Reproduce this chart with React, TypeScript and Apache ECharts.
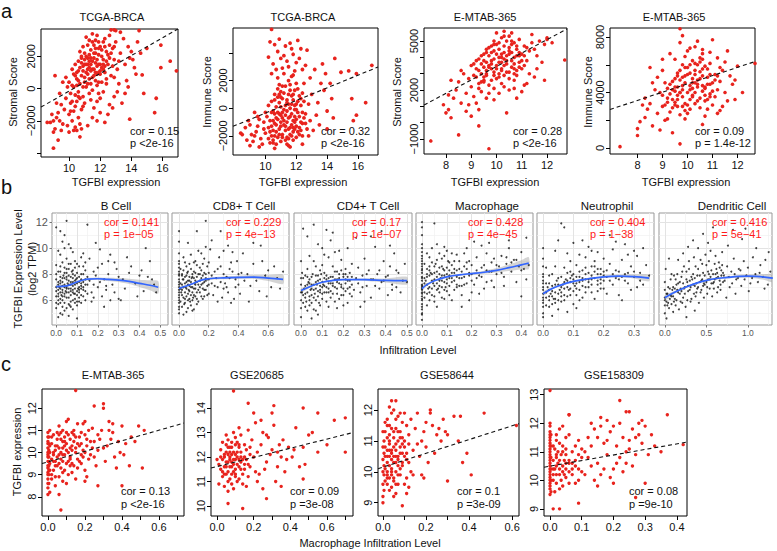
import React, { useEffect, useRef } from "react";
import * as echarts from "echarts";

type Pt = [number, number];
const FONT = '"Liberation Sans", Arial, Helvetica, sans-serif';
const RED = "#e8231d";

// ---------------- Panel a : TGFBI expression vs Stromal / Immune scores ----------------
const aTitles = ["TCGA-BRCA", "TCGA-BRCA", "E-MTAB-365", "E-MTAB-365"];
const aYNames = ["Stromal Score", "Immune Score", "Stromal Score", "Immune Score"];
const aXName = "TGFBI expression";
const aCor = ["cor = 0.15", "cor = 0.32", "cor = 0.28", "cor = 0.09"];
const aP = ["p <2e-16", "p <2e-16", "p <2e-16", "p = 1.4e-12"];

const a1XTicks = [10, 12, 14, 16];
const a1YTicks = [-4000, -2000, 0, 2000];
const a1YLabels = [-2000, 0, 2000];
const a2XTicks = [10, 12, 14, 16];
const a2YTicks = [-2000, 0, 2000, 4000];
const a2YLabels = [-2000, 0, 2000];
const a3XTicks = [8, 9, 10, 11, 12];
const a3YTicks = [-1000, 0, 1000, 2000, 3000, 4000, 5000];
const a3YLabels = [-1000, 2000, 5000];
const a4XTicks = [8, 9, 10, 11, 12];
const a4YTicks = [0, 2000, 4000, 6000, 8000];
const a4YLabels = [0, 4000, 8000];

const a1Fit: Pt[] = [[8.2, -1150], [17.0, 3700]];
const a2Fit: Pt[] = [[7.9, -1310], [17.3, 2980]];
const a3Fit: Pt[] = [[7.13, 1080], [12.79, 5740]];
const a4Fit: Pt[] = [[6.9, 2775], [12.7, 6230]];

const a1Stromal: Pt[] = [
  [11.2,1500],[11.5,1200],[10.8,800],[11.9,2100],[12.2,1800],[11.0,400],[11.4,2400],[10.6,1100],[12.0,900],[11.7,1600],
  [11.1,2000],[10.9,1400],[12.4,2300],[11.3,600],[11.8,200],[10.7,300],[12.1,1300],[11.6,2700],[11.0,1800],[12.3,1000],
  [10.5,600],[11.5,-100],[11.9,2900],[11.2,900],[10.8,1900],[12.6,1900],[11.4,1100],[11.7,500],[10.6,-200],[12.0,2600],
  [11.3,3000],[10.9,-500],[12.2,2900],[11.8,1400],[10.4,1500],[11.1,100],[12.5,1500],[11.6,800],[10.7,2300],[12.8,2500],
  [11.0,-900],[11.9,-300],[12.1,400],[10.3,900],[11.4,-700],[12.7,800],[11.2,2700],[10.5,-800],[11.8,3300],[12.4,600],
  [10.2,200],[11.6,-1200],[12.9,1800],[10.9,2600],[11.3,1700],[12.0,-600],[10.6,1700],[11.5,3400],[12.3,3100],[10.1,-300],
  [11.7,2200],[13.0,2900],[10.8,-1300],[12.6,3300],[11.1,3200],[10.4,-1100],[12.2,-200],[13.1,1200],[10.0,400],[11.9,1000],
  [10.9,1100],[11.3,1300],[11.6,1900],[11.0,700],[12.1,2000],[11.4,1500],[10.7,1300],[11.8,1800],[12.3,2600],[11.2,300],
  [10.5,1000],[11.9,1500],[11.5,700],[12.2,1200],[10.8,1600],[11.1,1000],[11.7,2500],[12.4,1700],[10.6,500],[11.4,1900],
  [11.0,2200],[12.0,1500],[10.9,100],[11.6,1200],[12.5,2100],[11.3,2100],[10.4,800],[11.8,900],[12.1,2400],[11.2,1200],
  [10.7,-600],[11.5,1700],[12.6,2700],[11.9,400],[10.3,100],[11.1,1500],[12.2,1500],[11.7,1000],[10.8,2000],[11.4,300],
  [12.7,2200],[11.0,1500],[10.6,-500],[11.6,2200],[12.3,1400],[11.2,1900],[10.5,200],[11.9,2500],[12.0,1100],[11.3,-300],
  [10.2,-800],[10.9,-1100],[11.8,-800],[12.4,300],[11.5,2900],[10.4,-400],[12.8,1400],[11.7,3000],[10.1,-1400],[12.9,700],
  [9.2,-1800],[9.5,-1000],[9.8,-600],[10.0,-1600],[9.6,-2200],[10.2,-2000],[9.9,100],[9.4,-300],[10.3,-1400],[9.1,-2500],
  [9.7,-1300],[10.1,-900],[9.3,-1500],[10.4,-2400],[9.8,700],[9.0,-2000],[10.0,-2700],[9.5,-2600],[10.6,-1800],[8.8,-2100],
  [9.2,-900],[10.5,-2600],[9.9,-2300],[9.6,400],[10.7,-2200],[9.4,-2000],[8.9,-1600],[10.2,1200],[9.1,800],[10.8,-2500],
  [13.3,2200],[13.6,1500],[13.2,300],[12.9,-500],[13.8,2600],[13.4,-900],[13.0,3600],[14.0,2300],[13.7,500],[12.8,-1200],
  [13.5,3100],[14.2,1300],[13.1,-200],[13.9,1900],[14.3,900],[12.7,3650],[13.6,-300],[14.4,2900],[13.2,1700],[12.9,2600],
  [13.8,100],[14.1,1800],[13.3,3500],[12.6,-1000],[14.6,2200],
  [11.5,-1800],[12.0,-1500],[11.2,-2300],[12.5,-1600],[11.8,-2000],
  [16.9,1100],[16.5,1700],[15.9,1300],[15.9,2700],[15.6,-600],[15.5,-1500],[14.7,850],[14.5,3600],[13.9,-1900],[9.0,-3700],
  [9.3,-3200],[8.6,-2100],[9.0,-2700],[10.3,-2600],[12.3,-2100],[15.0,2500],[14.8,-300],[12.9,3650],[10.7,-3000]
];

const a2Immune: Pt[] = [
  [11.0,-500],[11.3,200],[10.7,-1200],[11.8,600],[12.1,-300],[10.5,-1600],[11.5,1000],[11.2,-900],[10.9,400],[12.3,200],
  [11.6,-1400],[10.6,-400],[11.9,1300],[11.1,-1900],[12.0,-800],[10.8,800],[11.4,-200],[12.4,-1100],[10.4,-2000],[11.7,300],
  [11.0,1200],[12.2,900],[10.3,-900],[11.5,-700],[10.9,-1500],[11.8,-1700],[12.5,500],[10.7,100],[11.3,1600],[11.6,-600],
  [10.2,-1400],[12.0,1800],[11.1,700],[10.5,-2300],[11.9,-1000],[12.6,-400],[10.8,-800],[11.4,-2100],[10.1,-600],[12.3,-1600],
  [11.2,1100],[10.6,1000],[11.7,-1200],[12.8,300],[10.0,-1800],[11.5,2000],[11.0,-2400],[12.1,1400],[10.4,500],[11.8,-2300],
  [12.9,-900],[11.3,-1300],[10.7,-2600],[12.4,1100],[11.6,1700],[10.2,200],[11.9,-100],[12.7,-1500],[10.9,1700],[11.4,600],
  [10.5,-200],[12.2,-1900],[11.1,-300],[11.7,2300],[10.3,-2500],[12.0,300],[11.5,-2700],[10.8,2200],[12.5,1800],[11.2,2500],
  [11.1,-700],[11.4,-1000],[10.8,-300],[11.7,-400],[12.0,-1300],[10.6,-1100],[11.3,-1600],[11.9,200],[11.0,100],[12.2,-600],
  [10.5,-900],[11.6,0],[11.2,-1200],[10.9,-1900],[11.8,-900],[12.4,-300],[10.7,-1700],[11.5,-1500],[12.1,500],[11.0,-1300],
  [10.4,-1300],[11.7,900],[11.3,-500],[12.3,-1000],[10.8,-2100],[11.6,-1900],[11.9,-600],[10.6,600],[12.0,-100],[11.4,400],
  [11.1,-2100],[10.3,-1700],[12.5,-700],[11.8,1000],[10.9,-400],[11.2,-100],[12.2,-1400],[10.5,-2500],[11.5,300],[11.7,-2000],
  [10.7,-700],[12.6,-1100],[11.0,800],[11.3,-2300],[10.2,-2200],[12.0,-2100],[11.6,1300],[10.8,1400],[11.9,-1500],[11.4,-2600],
  [12.3,700],[10.4,-300],[11.1,1600],[11.8,-1400],[10.6,-2000],[12.1,-1700],[11.5,-2200],[11.0,-1000],[10.9,1000],[12.4,-2000],
  [9.0,-1200],[9.3,-2000],[9.6,-800],[9.9,-1500],[9.2,-2400],[9.5,-600],[9.8,-2600],[8.9,-900],[9.4,-1700],[9.7,-2200],
  [10.0,-300],[9.1,-1900],[8.7,-1400],[9.6,-2800],[9.3,-300],[8.8,-2300],[9.9,-1000],[9.5,-1300],[9.0,-2700],[8.5,-1900],
  [10.5,3200],[10.8,4100],[11.0,3600],[11.3,4500],[11.5,3000],[11.8,3900],[10.3,4800],[11.6,4700],[12.0,3300],[10.7,2800],
  [11.2,3800],[11.9,2700],[10.9,5000],[12.2,3600],[11.4,3400],[10.4,2500],[12.4,2800],[11.7,4300],[10.6,4600],[12.1,4900],
  [11.1,2900],[12.6,3100],[10.2,3700],[12.3,4300],[11.8,2400],
  [13.0,1000],[13.3,-500],[13.6,1800],[12.9,2200],[13.4,400],[13.8,1300],[14.0,-200],[13.2,2800],[14.2,1800],[13.5,-1200],
  [12.8,-2000],[14.5,3600],[13.9,2500],[13.1,-1600],[14.3,700],[13.7,3200],[12.7,4200],[14.4,-700],
  [16.9,3100],[16.5,400],[15.9,2500],[15.6,700],[15.7,-900],[15.9,-500],[14.9,2600],[15.4,2700],[10.4,5700],[10.6,-2900],
  [11.6,-2800],[12.4,-2600],[14.0,-1500],[8.4,-1800]
];

const a3Stromal: Pt[] = [
  [9.8,3800],[10.2,4200],[10.0,3500],[10.5,4600],[9.6,3200],[10.3,3900],[9.9,4400],[10.7,4000],[9.4,3600],[10.1,3000],
  [10.4,5000],[9.7,4100],[10.8,4500],[9.5,2800],[10.0,4800],[10.6,3400],[9.3,3900],[10.9,3700],[9.8,2600],[10.2,3300],
  [10.5,5300],[9.6,4500],[10.3,2900],[11.0,4200],[9.2,3300],[9.9,3100],[10.7,4900],[10.1,4000],[9.4,2500],[10.6,4300],
  [9.7,3500],[10.4,3600],[11.1,4700],[9.1,2900],[10.0,2700],[10.8,3200],[9.5,4200],[10.2,5200],[9.8,4700],[10.5,3100],
  [11.2,3800],[9.3,2400],[10.9,5100],[9.6,3700],[10.3,4700],[9.0,3500],[10.7,3600],[10.1,4500],[9.9,5000],[11.3,4400],
  [9.4,3000],[10.6,5500],[9.7,2300],[10.4,4100],[11.0,3300],[9.2,3800],[10.8,2900],[9.8,3300],[10.2,3700],[11.4,4900],
  [9.5,3400],[10.0,5500],[10.9,4100],[9.1,3600],[10.5,2700],[11.1,3500],[9.6,2900],[10.3,5600],[9.9,2100],[10.7,2600],
  [9.9,3900],[10.3,4300],[10.1,3700],[10.6,4800],[9.7,3400],[10.4,3800],[10.0,4200],[10.8,4100],[9.5,3800],[10.2,3200],
  [10.5,4400],[9.8,4300],[10.9,4300],[9.6,3000],[10.1,4900],[10.7,3300],[9.4,4100],[11.0,3800],[9.9,2900],[10.3,3500],
  [10.6,5000],[9.7,4600],[10.4,3100],[11.1,4100],[9.3,3200],[10.0,3300],[10.8,4700],[10.2,4000],[9.5,2600],[10.5,4200],
  [9.8,3600],[10.6,3800],[11.2,4600],[9.2,2800],[10.1,2800],[10.9,3400],[9.6,4300],[10.3,5300],[9.9,4800],[10.7,3000],
  [8.5,2500],[8.8,1800],[9.0,2200],[8.3,1500],[8.7,3000],[9.2,1200],[8.1,800],[8.9,2700],[9.4,1900],[8.6,1200],
  [8.0,600],[9.1,1600],[8.4,2000],[8.8,700],[9.3,2100],[8.2,2600],[9.6,1500],[8.9,1100],[9.5,2500],[8.6,3200],
  [9.0,400],[9.7,1800],[8.1,1700],[9.3,800],
  [11.5,4500],[11.3,3000],[11.7,5000],[11.9,4800],[11.5,2800],[12.0,5100],[11.8,3700],[11.4,5400],[11.6,3300],[12.2,4900],
  [11.2,2400],[11.9,2600],[11.6,4100],
  [10.1,1800],[10.5,2000],[10.8,1500],[9.9,1400],[10.3,2200],[10.7,2100],[11.0,1900],[10.2,2400],[11.1,2300],
  [7.4,-1120],[9.7,-1600],[8.5,-750],[12.7,3840],[8.2,300],[9.3,-200],[10.4,600],[12.0,5200],[7.9,1100]
];

const a4Immune: Pt[] = [
  [9.8,4500],[10.2,5000],[10.0,4000],[10.5,5500],[9.6,3800],[10.3,4700],[9.9,5200],[10.7,4400],[9.4,4200],[10.1,3500],
  [10.4,6000],[9.7,4900],[10.8,5100],[9.5,3300],[10.0,5800],[10.6,4100],[9.3,4600],[10.9,3900],[9.8,3000],[10.2,3800],
  [10.5,6500],[9.6,5400],[10.3,3200],[11.0,4700],[9.2,3600],[9.9,2700],[10.7,5900],[10.1,4500],[9.4,2900],[10.6,5200],
  [9.7,4000],[10.4,4400],[11.1,5300],[9.1,3100],[10.0,2500],[10.8,3500],[9.5,5000],[10.2,6300],[9.8,6000],[10.5,3600],
  [11.2,4200],[9.3,2600],[10.9,6100],[9.6,4400],[10.3,5600],[9.0,3800],[10.7,3400],[10.1,5400],[9.9,6600],[11.3,4800],
  [9.4,3500],[10.6,6800],[9.7,2400],[10.4,4900],[11.0,3100],[9.2,4300],[10.8,2800],[9.8,3700],[10.2,4300],[11.4,5600],
  [9.5,4100],[10.0,7000],[10.9,4600],[9.1,4700],[10.5,2900],[11.1,3700],[9.6,3000],[10.3,7300],[9.9,2100],[10.7,2300],
  [9.7,7600],[10.1,7200],[9.8,8100],[10.4,7700],[9.5,6400],[10.6,7100],[9.3,6800],[10.9,6900],[9.0,5600],[11.2,6500],
  [9.9,4700],[10.3,5300],[10.1,4200],[10.6,5700],[9.7,4000],[10.4,4600],[10.0,5300],[10.8,4600],[9.5,4400],[10.2,3700],
  [10.5,6200],[9.8,5100],[10.9,5300],[9.6,3500],[10.1,6000],[10.7,4300],[9.4,4800],[11.0,4100],[9.9,3200],[10.3,4000],
  [10.6,6400],[9.7,5600],[10.4,3400],[11.1,4900],[9.3,3900],[10.0,3100],[10.8,5700],[10.2,4700],[9.5,3100],[10.5,5000],
  [9.8,4200],[10.6,4500],[11.2,5200],[9.2,3300],[10.1,2800],[10.9,3700],[9.6,5200],[10.3,6100],[9.9,5800],[10.7,3800],
  [8.5,3200],[8.8,2500],[9.0,3000],[8.3,3600],[8.7,4200],[9.2,2100],[8.1,1900],[8.9,4000],[8.6,1600],[8.0,1400],
  [8.4,2800],[8.8,5100],[9.1,2000],[8.2,3100],[8.6,4700],[8.9,1300],[8.5,5800],[9.0,6400],
  [11.5,4000],[11.3,2700],[11.7,5200],[11.9,3500],[11.5,6200],[12.0,5900],[11.8,4600],[11.4,3000],[11.6,7000],[12.2,4000],
  [11.2,2500],[11.9,4900],[11.6,3400],[11.3,5800],
  [7.3,100],[9.7,300],[12.7,6100],[9.7,8600],[8.0,900],[9.4,1100],[10.6,1700],[11.0,7800],[8.3,2200]
];

// ---------------- Panel b : TIMER immune infiltration ----------------
const bTitles = ["B Cell", "CD8+ T Cell", "CD4+ T Cell", "Macrophage", "Neutrophil", "Dendritic Cell"];
const bCor = ["cor = 0.141", "cor = 0.229", "cor = 0.17", "cor = 0.428", "cor = 0.404", "cor = 0.416"];
const bP = ["p = 1e\u221205", "p = 4e\u221213", "p = 1e\u221207", "p = 4e\u221245", "p = 1\u221238", "p = 5e\u221241"];
const bYTicks = [6, 8, 10, 12];
const bYMinor = [5, 7, 9, 11];
const b1XTicks = [0, 0.1, 0.2, 0.3, 0.4, 0.5];
const b1XMinor = [0.05, 0.15, 0.25, 0.35, 0.45];
const b2XTicks = [0, 0.2, 0.4, 0.6];
const b2XMinor = [0.1, 0.3, 0.5, 0.7];
const b3XTicks = [0, 0.1, 0.2, 0.3, 0.4, 0.5];
const b3XMinor = [0.05, 0.15, 0.25, 0.35, 0.45];
const b4XTicks = [0, 0.1, 0.2, 0.3, 0.4];
const b4XMinor = [0.05, 0.15, 0.25, 0.35];
const b5XTicks = [0, 0.1, 0.2, 0.3];
const b5XMinor = [0.05, 0.15, 0.25, 0.35];
const b6XTicks = [0, 0.5, 1.0];
const b6XMinor = [0.25, 0.75, 1.25];

const bBCell: Pt[] = [
  [0.0,7.0],[0.01,6.5],[0.02,7.5],[0.0,5.8],[0.03,6.8],[0.01,8.2],[0.04,7.2],[0.02,6.1],[0.05,7.8],[0.03,5.5],
  [0.06,6.9],[0.04,8.5],[0.02,7.3],[0.07,6.4],[0.05,7.6],[0.01,6.0],[0.08,7.1],[0.03,8.9],[0.06,6.2],[0.09,7.9],
  [0.04,5.2],[0.07,7.4],[0.1,6.7],[0.02,9.5],[0.05,6.6],[0.08,8.3],[0.11,7.0],[0.03,7.7],[0.06,5.7],[0.12,7.6],
  [0.01,7.2],[0.09,6.5],[0.04,6.3],[0.13,8.0],[0.07,8.8],[0.1,7.3],[0.02,5.0],[0.05,9.2],[0.14,7.2],[0.08,6.0],
  [0.11,8.6],[0.03,6.6],[0.06,7.9],[0.12,6.4],[0.0,8.0],[0.09,9.0],[0.04,7.0],[0.15,7.8],[0.07,5.9],[0.1,8.1],
  [0.01,9.8],[0.13,6.8],[0.05,5.4],[0.08,7.7],[0.02,8.6],[0.11,6.2],[0.06,8.4],[0.14,8.3],[0.03,4.9],[0.09,7.5],
  [0.0,6.3],[0.12,9.3],[0.04,10.0],[0.07,6.7],[0.1,5.6],[0.02,6.9],[0.15,6.5],[0.05,8.1],[0.08,5.3],[0.01,4.7],
  [0.13,9.6],[0.06,10.3],[0.11,7.8],[0.03,10.5],[0.09,5.8],[0.14,6.0],[0.0,11.6],[0.02,11.3],[0.05,12.1],[0.07,10.0],
  [0.04,11.0],[0.1,4.6],[0.08,9.7],[0.12,5.8],[0.06,4.8],
  [0.0,6.7],[0.01,7.4],[0.02,6.6],[0.03,7.1],[0.04,6.5],[0.05,7.0],[0.06,7.5],[0.07,6.9],[0.08,6.6],[0.09,7.2],
  [0.1,7.7],[0.11,6.8],[0.12,7.1],[0.13,7.4],[0.14,6.7],[0.0,7.6],[0.01,6.8],[0.02,7.8],[0.03,6.3],[0.04,7.7],
  [0.05,6.2],[0.06,6.6],[0.07,7.8],[0.08,6.8],[0.09,6.1],[0.1,6.4],[0.11,7.4],[0.12,8.0],[0.13,6.3],[0.15,7.2],
  [0.0,5.4],[0.01,5.7],[0.02,8.2],[0.03,7.4],[0.04,5.8],[0.05,8.4],[0.06,7.2],[0.07,5.5],[0.08,8.0],[0.09,8.5],
  [0.1,5.9],[0.11,6.6],[0.12,7.3],[0.13,8.6],[0.14,7.6],[0.0,8.7],[0.01,6.3],[0.02,5.8],[0.03,6.0],[0.04,8.1],
  [0.05,6.9],[0.06,8.8],[0.07,7.2],[0.08,7.4],[0.09,6.9],[0.1,8.8],[0.11,5.9],[0.12,6.9],[0.13,7.0],[0.14,8.9],
  [0.015,7.0],[0.025,6.4],[0.035,7.9],[0.045,6.7],[0.055,7.3],[0.065,5.6],[0.075,8.2],[0.085,6.5],[0.095,7.6],[0.105,6.9],
  [0.16,7.5],[0.18,8.2],[0.2,7.0],[0.17,6.6],[0.22,8.8],[0.19,7.9],[0.24,6.8],[0.21,7.4],[0.16,9.2],[0.25,8.0],
  [0.18,6.2],[0.23,7.6],[0.27,7.2],[0.2,8.5],[0.26,9.5],[0.17,5.9],[0.28,6.6],[0.22,6.3],[0.29,8.4],[0.19,10.4],
  [0.24,7.1],[0.3,7.8],[0.15,11.8],[0.21,9.9],[0.26,6.0],[0.28,8.9],[0.23,5.5],[0.18,7.2],[0.3,6.1],[0.25,9.0],
  [0.32,7.6],[0.35,8.1],[0.33,6.9],[0.38,7.3],[0.36,8.6],[0.4,7.9],[0.42,6.7],[0.44,7.8],[0.45,9.0],[0.39,6.3],
  [0.47,7.2],[0.48,6.6],[0.43,10.0],[0.34,9.3],[0.31,6.0],[0.46,7.6],[0.41,8.3]
];
const bBCellSmoothX = [0, 0.05, 0.1, 0.15, 0.2, 0.25, 0.3, 0.35, 0.4, 0.45, 0.49];
const bBCellSmoothY = [7.05, 7.1, 7.4, 7.62, 7.65, 7.6, 7.55, 7.45, 7.3, 7.15, 7.0];
const bBCellSmoothSE = [0.12, 0.08, 0.07, 0.08, 0.1, 0.12, 0.15, 0.2, 0.28, 0.38, 0.48];

const bCD8: Pt[] = [
  [0.0,5.0],[0.0,5.5],[0.0,6.0],[0.0,6.4],[0.0,6.8],[0.0,7.2],[0.0,7.6],[0.0,8.0],[0.0,8.5],[0.0,9.0],
  [0.0,9.6],[0.0,10.5],[0.0,11.3],[0.0,5.8],[0.0,7.0],[0.0,7.9],
  [0.0,6.2],[0.0,6.6],[0.0,7.4],[0.0,8.2],[0.0,5.3],[0.0,8.8],
  [0.02,6.8],[0.04,7.3],[0.03,6.2],[0.05,7.9],[0.06,6.5],[0.02,5.5],[0.07,7.1],[0.08,8.4],[0.03,7.6],[0.09,6.0],
  [0.05,6.9],[0.1,7.7],[0.04,5.8],[0.11,8.1],[0.06,7.5],[0.12,6.6],[0.07,8.8],[0.02,8.0],[0.13,7.2],[0.08,5.6],
  [0.14,8.5],[0.09,7.0],[0.15,6.3],[0.03,9.3],[0.1,6.4],[0.16,7.9],[0.05,5.1],[0.11,9.0],[0.17,7.4],[0.06,8.2],
  [0.12,7.8],[0.18,6.8],[0.04,6.6],[0.13,5.9],[0.19,8.6],[0.07,6.1],[0.14,7.0],[0.2,7.6],[0.08,9.5],[0.15,8.3],
  [0.01,6.9],[0.09,8.0],[0.16,6.1],[0.02,7.9],[0.1,5.3],[0.17,9.2],[0.05,8.6],[0.11,6.9],[0.18,8.0],[0.06,5.4],
  [0.12,8.7],[0.19,7.1],[0.03,4.9],[0.13,9.8],[0.2,6.5],[0.07,7.8],[0.14,6.6],[0.08,6.4],[0.15,9.6],[0.09,5.2],
  [0.16,8.8],[0.01,8.4],[0.1,8.9],[0.17,6.3],[0.04,8.9],[0.11,7.5],[0.18,10.1],[0.06,10.4],[0.12,5.7],[0.2,8.9],
  [0.01,7.3],[0.02,6.4],[0.03,7.0],[0.04,7.8],[0.05,6.3],[0.06,7.2],[0.07,6.7],[0.08,7.4],[0.09,7.8],[0.1,6.9],
  [0.11,6.3],[0.12,7.4],[0.13,8.0],[0.14,7.5],[0.15,7.2],[0.16,6.9],[0.17,8.1],[0.18,7.5],[0.19,6.4],[0.2,7.2],
  [0.01,5.9],[0.02,7.2],[0.03,8.3],[0.04,6.1],[0.05,7.4],[0.06,6.0],[0.07,7.5],[0.08,7.0],[0.09,6.6],[0.1,8.2],
  [0.11,7.2],[0.12,6.1],[0.13,6.8],[0.14,8.0],[0.15,7.7],[0.16,7.3],[0.17,6.8],[0.18,7.7],[0.19,7.6],[0.2,8.1],
  [0.015,6.6],[0.025,7.6],[0.035,5.7],[0.045,7.0],[0.055,8.1],[0.065,6.8],[0.075,5.9],[0.085,7.7],[0.095,6.2],[0.105,7.3],
  [0.22,7.9],[0.24,7.1],[0.26,8.4],[0.28,7.4],[0.3,8.0],[0.32,7.0],[0.34,7.7],[0.36,8.2],[0.38,7.0],[0.4,8.0],
  [0.22,7.3],[0.24,8.2],[0.26,7.0],[0.23,6.4],[0.28,8.6],[0.25,7.7],[0.3,6.9],[0.27,9.3],[0.32,7.8],[0.29,6.2],
  [0.34,8.4],[0.31,7.3],[0.36,9.7],[0.33,6.6],[0.38,7.6],[0.35,8.9],[0.4,7.2],[0.37,6.1],[0.42,8.1],[0.39,9.0],
  [0.44,7.5],[0.41,6.5],[0.21,9.9],[0.26,5.9],[0.3,9.8],[0.35,5.8],[0.43,9.6],[0.22,10.6],[0.28,11.3],[0.33,10.2],
  [0.46,8.0],[0.48,7.1],[0.5,8.8],[0.52,7.5],[0.54,6.7],[0.56,9.0],[0.58,7.9],[0.6,8.3],[0.62,7.0],[0.64,8.6],
  [0.66,7.7],[0.68,6.9],[0.5,10.4],[0.55,10.2],[0.7,8.2],[0.47,5.9],[0.59,6.3],[0.18,12.1],[0.12,11.3]
];
const bCD8SmoothX = [0, 0.05, 0.1, 0.15, 0.2, 0.3, 0.4, 0.5, 0.6, 0.7];
const bCD8SmoothY = [6.9, 7.1, 7.3, 7.55, 7.65, 7.72, 7.76, 7.78, 7.7, 7.6];
const bCD8SmoothSE = [0.15, 0.08, 0.07, 0.08, 0.08, 0.1, 0.12, 0.15, 0.22, 0.35];

const bCD4: Pt[] = [
  [0.0,6.0],[0.0,7.2],[0.0,5.4],[0.005,6.6],[0.005,8.1],[0.0,9.0],[0.01,11.5],[0.0,4.7],[0.01,7.7],
  [0.02,6.5],[0.03,7.2],[0.04,6.0],[0.05,7.8],[0.06,6.8],[0.07,7.4],[0.08,6.3],[0.09,8.3],[0.1,7.0],[0.11,6.6],
  [0.12,7.9],[0.13,7.3],[0.14,6.2],[0.15,8.6],[0.16,7.6],[0.17,6.9],[0.18,8.0],[0.19,7.2],[0.2,6.4],[0.21,8.4],
  [0.22,7.5],[0.23,7.0],[0.24,8.8],[0.25,6.8],[0.02,5.5],[0.03,8.4],[0.04,7.6],[0.05,5.8],[0.06,9.0],[0.07,6.0],
  [0.08,7.9],[0.09,5.6],[0.1,8.7],[0.11,7.7],[0.12,5.9],[0.13,9.3],[0.14,7.8],[0.15,6.5],[0.16,9.7],[0.17,8.2],
  [0.18,6.1],[0.19,9.1],[0.2,7.8],[0.21,6.7],[0.22,10.0],[0.23,8.1],[0.24,6.3],[0.02,7.9],[0.03,5.2],[0.04,9.4],
  [0.05,6.9],[0.06,5.3],[0.07,8.6],[0.08,10.3],[0.09,7.1],[0.1,6.1],[0.11,9.5],[0.12,7.0],[0.13,5.5],[0.14,10.6],
  [0.15,7.3],[0.16,5.9],[0.17,7.6],[0.18,9.8],[0.19,6.4],[0.2,5.6],[0.21,7.3],[0.22,5.8],[0.03,10.9],[0.06,11.8],
  [0.08,4.9],[0.12,11.4],[0.05,4.6],[0.1,10.0],[0.15,11.2],[0.04,6.3],[0.07,5.2],[0.09,6.6],[0.13,6.9],[0.17,5.4],
  [0.01,6.4],[0.02,7.1],[0.03,6.6],[0.04,7.3],[0.05,6.4],[0.06,7.2],[0.07,6.9],[0.08,7.5],[0.09,6.8],[0.1,7.4],
  [0.11,7.1],[0.12,7.6],[0.13,6.6],[0.14,7.3],[0.15,7.8],[0.16,7.0],[0.17,7.4],[0.18,7.7],[0.19,7.0],[0.2,8.0],
  [0.21,7.6],[0.22,6.9],[0.23,7.5],[0.24,7.2],[0.01,5.8],[0.02,6.2],[0.03,7.8],[0.04,5.6],[0.05,7.2],[0.06,6.2],
  [0.07,7.9],[0.08,6.7],[0.09,7.6],[0.1,6.5],[0.11,8.1],[0.12,6.6],[0.13,7.7],[0.14,6.7],[0.15,7.1],[0.16,8.2],
  [0.17,6.5],[0.18,7.3],[0.19,8.3],[0.2,6.9],[0.21,8.0],[0.22,7.8],[0.23,6.5],[0.24,7.8],[0.0,6.6],[0.0,7.7],
  [0.015,6.9],[0.025,5.9],[0.035,7.4],[0.045,6.8],[0.055,8.0],[0.065,6.5],[0.075,7.2],[0.085,5.8],[0.095,8.0],[0.105,7.2],
  [0.27,7.3],[0.29,7.0],[0.31,8.0],[0.33,7.6],[0.35,7.1],[0.37,8.3],[0.39,7.5],[0.41,7.9],[0.43,6.8],[0.45,8.3],
  [0.26,7.7],[0.27,8.5],[0.28,6.6],[0.29,7.9],[0.3,9.2],[0.31,7.1],[0.32,8.3],[0.33,6.2],[0.34,7.6],[0.35,10.1],
  [0.36,8.0],[0.37,6.9],[0.38,7.4],[0.39,9.0],[0.4,7.8],[0.41,6.4],[0.42,8.6],[0.43,7.2],[0.44,9.6],[0.45,7.0],
  [0.46,8.1],[0.47,6.6],[0.48,7.5],[0.49,8.8],[0.26,10.8],[0.3,5.9],[0.33,10.9],[0.38,11.3],[0.28,5.5],[0.42,10.2],[0.5,7.4]
];
const bCD4SmoothX = [0, 0.05, 0.1, 0.15, 0.2, 0.3, 0.4, 0.5];
const bCD4SmoothY = [6.75, 7.1, 7.38, 7.52, 7.58, 7.58, 7.52, 7.5];
const bCD4SmoothSE = [0.15, 0.08, 0.06, 0.06, 0.07, 0.1, 0.15, 0.3];

const bMacrophage: Pt[] = [
  [0.0,4.5],[0.0,4.9],[0.0,5.3],[0.0,5.7],[0.0,6.0],[0.0,6.3],[0.0,6.6],[0.0,6.9],[0.0,7.2],[0.0,7.5],
  [0.0,7.8],[0.0,8.1],[0.0,8.4],[0.0,8.8],[0.0,9.2],[0.0,9.7],[0.0,10.3],[0.0,11.0],[0.0,11.6],[0.0,5.0],
  [0.0,6.8],[0.0,7.0],[0.0,8.6],[0.0,9.4],[0.0,12.0],
  [0.0,5.5],[0.0,6.1],[0.0,6.5],[0.0,7.1],[0.0,7.7],[0.0,8.3],[0.0,9.0],[0.0,10.0],
  [0.01,7.3],[0.02,6.5],[0.03,7.9],[0.02,8.4],[0.04,6.9],[0.05,7.6],[0.03,6.0],[0.06,8.2],[0.04,8.9],[0.07,7.1],
  [0.05,6.3],[0.08,7.9],[0.06,9.1],[0.09,7.4],[0.07,6.6],[0.1,8.5],[0.08,7.0],[0.11,7.7],[0.09,9.4],[0.12,8.1],
  [0.1,6.7],[0.13,7.5],[0.11,8.9],[0.14,7.2],[0.12,9.6],[0.15,8.4],[0.01,8.8],[0.02,5.6],[0.03,9.3],[0.04,7.5],
  [0.05,5.9],[0.06,7.3],[0.07,9.6],[0.08,6.2],[0.09,8.3],[0.1,7.3],[0.11,6.4],[0.12,7.4],[0.13,9.0],[0.14,8.3],
  [0.15,7.1],[0.01,6.2],[0.02,9.6],[0.03,7.0],[0.04,10.0],[0.05,8.6],[0.06,5.5],[0.07,8.0],[0.08,9.2],[0.09,6.1],
  [0.1,9.8],[0.11,7.9],[0.12,6.0],[0.13,8.1],[0.14,9.5],[0.02,7.8],[0.06,10.3],[0.05,11.9],[0.09,10.1],[0.03,8.3],
  [0.01,7.7],[0.02,7.2],[0.03,8.6],[0.04,8.0],[0.05,7.1],[0.06,7.8],[0.07,8.5],[0.08,7.5],[0.09,7.9],[0.1,7.6],
  [0.11,8.3],[0.12,7.7],[0.13,8.4],[0.14,7.8],[0.15,7.7],[0.16,8.2],[0.17,7.8],[0.18,8.4],[0.19,7.9],[0.2,8.7],
  [0.01,6.6],[0.02,8.0],[0.03,6.6],[0.04,6.4],[0.05,8.1],[0.06,6.8],[0.07,7.5],[0.08,8.6],[0.09,6.8],[0.1,8.0],
  [0.11,7.1],[0.12,8.7],[0.13,6.8],[0.14,7.0],[0.15,9.0],[0.16,7.1],[0.17,7.2],[0.18,8.9],[0.19,8.1],[0.2,7.5],
  [0.015,7.5],[0.025,6.9],[0.035,8.1],[0.045,7.3],[0.055,8.8],[0.065,6.9],[0.075,7.7],[0.085,8.4],[0.095,7.0],[0.105,9.0],
  [0.22,7.7],[0.24,7.8],[0.26,8.3],[0.28,8.2],[0.3,8.7],[0.32,8.1],[0.34,9.3],[0.36,8.9],[0.38,9.1],[0.4,8.3],
  [0.16,7.7],[0.17,8.6],[0.18,7.3],[0.19,9.0],[0.2,8.0],[0.21,7.2],[0.22,9.3],[0.23,7.9],[0.24,8.5],[0.25,6.9],
  [0.26,9.6],[0.27,8.2],[0.28,7.5],[0.29,9.2],[0.3,8.0],[0.16,6.4],[0.18,10.0],[0.2,6.6],[0.22,8.3],[0.24,10.2],
  [0.26,7.4],[0.28,8.9],[0.17,9.6],[0.19,6.0],[0.21,10.5],[0.23,6.5],[0.25,8.7],[0.27,10.4],[0.29,7.0],[0.16,5.5],
  [0.31,8.6],[0.32,9.4],[0.33,7.8],[0.34,8.8],[0.35,10.0],[0.36,8.2],[0.37,9.1],[0.38,7.4],[0.39,8.6],[0.4,9.7],
  [0.41,8.4],[0.42,10.8],[0.43,8.7],[0.33,7.1],[0.4,6.3],[0.35,10.6],[0.42,7.6]
];
const bMacrophageSmoothX = [0, 0.02, 0.05, 0.1, 0.15, 0.2, 0.25, 0.3, 0.35, 0.4, 0.43];
const bMacrophageSmoothY = [6.9, 7.2, 7.5, 7.8, 7.95, 8.05, 8.15, 8.3, 8.5, 8.72, 8.85];
const bMacrophageSmoothSE = [0.2, 0.1, 0.07, 0.06, 0.07, 0.09, 0.12, 0.17, 0.25, 0.35, 0.45];

const bNeutrophil: Pt[] = [
  [0.0,5.0],[0.0,5.5],[0.0,6.0],[0.0,6.5],[0.0,7.0],[0.0,7.5],[0.0,8.0],[0.0,8.6],[0.0,9.2],[0.0,4.7],[0.0,6.2],[0.0,10.0],
  [0.0,5.8],[0.0,6.8],[0.0,7.3],[0.0,7.8],
  [0.01,6.2],[0.02,6.8],[0.03,5.7],[0.04,7.2],[0.05,6.5],[0.06,7.8],[0.07,6.9],[0.08,7.5],[0.09,6.4],[0.1,8.0],
  [0.11,7.3],[0.12,6.8],[0.13,8.3],[0.14,7.6],[0.15,7.0],[0.16,8.6],[0.17,7.7],[0.18,7.2],[0.19,8.4],[0.2,7.5],
  [0.01,7.3],[0.02,5.5],[0.03,8.0],[0.04,6.1],[0.05,7.7],[0.06,5.9],[0.07,8.5],[0.08,6.3],[0.09,9.0],[0.1,6.7],
  [0.11,8.7],[0.12,6.0],[0.13,7.1],[0.14,9.3],[0.15,8.1],[0.16,6.6],[0.17,9.0],[0.18,8.0],[0.19,6.9],[0.2,9.2],
  [0.02,7.9],[0.03,6.7],[0.04,8.6],[0.05,5.3],[0.06,7.0],[0.07,6.0],[0.08,9.6],[0.09,7.4],[0.1,5.7],[0.11,6.4],
  [0.12,9.5],[0.13,6.2],[0.14,7.0],[0.15,10.1],[0.16,7.6],[0.17,6.1],[0.18,9.7],[0.19,7.6],[0.01,8.5],[0.03,4.8],
  [0.05,10.6],[0.06,11.9],[0.07,11.6],[0.04,9.8],[0.1,10.4],[0.08,5.1],[0.12,7.8],[0.13,10.6],[0.02,6.3],[0.09,8.2],
  [0.11,5.4],[0.14,8.5],[0.16,9.8],[0.18,6.7],[0.2,8.2],
  [0.01,6.6],[0.02,6.0],[0.03,7.1],[0.04,6.6],[0.05,7.2],[0.06,6.6],[0.07,7.4],[0.08,7.0],[0.09,7.7],[0.1,7.3],
  [0.11,7.8],[0.12,7.4],[0.13,7.7],[0.14,8.0],[0.15,7.6],[0.16,7.9],[0.17,8.2],[0.18,7.5],[0.19,8.0],[0.2,7.9],
  [0.01,5.6],[0.02,7.3],[0.03,6.3],[0.04,5.8],[0.05,6.0],[0.06,6.3],[0.07,6.4],[0.08,8.1],[0.09,6.9],[0.1,7.6],
  [0.11,6.9],[0.12,8.2],[0.13,7.5],[0.14,6.6],[0.15,7.4],[0.16,7.2],[0.17,8.6],[0.18,8.4],[0.19,7.3],[0.2,6.9],
  [0.015,7.0],[0.025,6.5],[0.035,6.1],[0.045,7.5],[0.055,6.8],[0.065,7.2],[0.075,7.6],[0.085,6.8],[0.095,7.9],[0.105,7.1],
  [0.21,8.3],[0.22,7.5],[0.23,8.0],[0.24,7.7],[0.25,8.2],[0.26,7.8],[0.27,7.5],[0.28,8.1],[0.3,8.2],[0.32,7.5],
  [0.21,7.8],[0.22,8.8],[0.23,7.2],[0.24,8.3],[0.25,7.6],[0.26,9.1],[0.27,8.0],[0.28,7.3],[0.29,8.6],[0.3,7.8],
  [0.31,9.4],[0.32,8.1],[0.33,7.2],[0.34,8.7],[0.35,7.9],[0.21,6.5],[0.23,9.9],[0.25,6.4],[0.27,10.3],[0.29,6.8],
  [0.31,7.0],[0.33,10.0],[0.22,11.0],[0.26,6.0],[0.3,9.8],[0.24,10.5],[0.28,9.5]
];
const bNeutrophilSmoothX = [0, 0.025, 0.05, 0.1, 0.15, 0.2, 0.25, 0.3, 0.35];
const bNeutrophilSmoothY = [6.5, 6.85, 7.1, 7.45, 7.65, 7.8, 7.85, 7.82, 7.7];
const bNeutrophilSmoothSE = [0.18, 0.1, 0.07, 0.06, 0.07, 0.08, 0.1, 0.15, 0.25];

const bDendritic: Pt[] = [
  [0.0,5.0],[0.0,5.6],[0.0,6.2],[0.0,6.8],[0.0,7.4],[0.02,4.6],[0.02,5.9],[0.03,6.5],[0.04,7.0],[0.05,5.4],
  [0.06,6.1],[0.07,7.6],[0.08,5.7],[0.09,6.8],[0.1,6.3],[0.01,8.4],[0.05,9.2],[0.08,8.0],[0.1,5.1],
  [0.12,6.9],[0.14,6.0],[0.16,7.3],[0.18,6.5],[0.2,7.8],[0.22,6.2],[0.24,7.0],[0.26,8.2],[0.28,6.7],[0.3,7.5],
  [0.32,6.1],[0.34,8.0],[0.36,7.1],[0.38,6.6],[0.4,8.4],[0.42,7.4],[0.44,6.8],[0.46,8.1],[0.48,7.2],[0.5,8.7],
  [0.52,7.6],[0.54,6.9],[0.56,8.3],[0.58,7.3],[0.6,8.8],[0.62,7.7],[0.64,7.0],[0.66,8.5],[0.68,7.9],[0.7,8.1],
  [0.13,5.6],[0.15,8.0],[0.17,5.3],[0.19,6.9],[0.21,5.8],[0.23,8.6],[0.25,5.5],[0.27,7.4],[0.29,9.0],[0.31,5.9],
  [0.33,7.6],[0.35,9.3],[0.37,6.3],[0.39,7.9],[0.41,5.8],[0.43,9.1],[0.45,7.6],[0.47,6.2],[0.49,9.5],[0.51,6.5],
  [0.53,8.0],[0.55,9.8],[0.57,6.3],[0.59,7.4],[0.61,9.4],[0.63,6.6],[0.65,8.9],[0.67,6.8],[0.69,9.7],[0.11,7.9],
  [0.16,9.1],[0.22,9.6],[0.28,10.1],[0.34,10.6],[0.4,10.0],[0.46,11.1],[0.52,10.4],[0.58,11.6],[0.26,4.7],[0.36,5.2],
  [0.0,6.0],[0.02,6.5],[0.04,5.8],[0.06,6.9],[0.08,6.3],[0.1,7.0],[0.12,6.1],[0.14,7.2],[0.16,6.6],[0.18,7.4],
  [0.2,6.7],[0.22,7.3],[0.24,6.5],[0.26,7.6],[0.28,7.1],[0.3,6.8],[0.32,7.8],[0.34,7.2],[0.36,7.7],[0.38,7.3],
  [0.4,7.0],[0.42,7.9],[0.44,7.5],[0.46,7.1],[0.48,7.9],[0.5,7.4],[0.52,8.2],[0.54,7.6],[0.56,7.3],[0.58,8.0],
  [0.6,7.6],[0.62,8.4],[0.64,7.8],[0.66,7.5],[0.68,8.3],[0.7,7.4],[0.03,5.6],[0.07,6.4],[0.11,5.9],[0.15,6.8],
  [0.19,5.9],[0.23,6.9],[0.27,6.0],[0.31,7.0],[0.35,6.5],[0.39,6.9],[0.43,6.6],[0.47,7.3],[0.51,7.0],[0.55,7.8],
  [0.59,6.9],[0.63,8.1],[0.67,7.2],[0.71,7.9],[0.13,7.6],[0.21,8.2],[0.29,8.4],[0.37,8.6],[0.45,8.8],[0.53,9.0],
  [0.61,8.0],[0.69,8.7],[0.77,7.8],[0.81,7.3],[0.84,8.0],[0.88,7.7],[0.91,8.3],[0.96,7.6],[1.05,7.7],[1.14,8.1],
  [0.72,7.5],[0.75,8.6],[0.78,7.0],[0.8,8.2],[0.83,9.2],[0.86,7.6],[0.89,8.4],[0.92,7.1],[0.95,9.0],[0.98,7.9],
  [1.0,8.5],[1.03,7.3],[1.06,9.3],[1.09,8.0],[1.12,7.4],[1.15,8.7],[1.18,7.8],[1.21,9.1],[1.24,7.2],[1.27,8.2],
  [1.3,7.6],[0.76,10.2],[0.85,6.5],[0.93,10.7],[1.01,6.7],[1.1,10.0],[1.2,6.9],[0.82,11.4],[0.97,11.5],[1.25,9.7],[0.74,6.2]
];
const bDendriticSmoothX = [0, 0.1, 0.25, 0.4, 0.5, 0.6, 0.75, 0.9, 1.0, 1.1, 1.2, 1.3];
const bDendriticSmoothY = [6.2, 6.55, 7.0, 7.35, 7.52, 7.65, 7.75, 7.83, 7.85, 7.83, 7.78, 7.7];
const bDendriticSmoothSE = [0.2, 0.12, 0.08, 0.07, 0.07, 0.07, 0.08, 0.1, 0.12, 0.15, 0.22, 0.3];

// ---------------- Panel c : TGFBI vs macrophage infiltration ----------------
const cTitles = ["E-MTAB-365", "GSE20685", "GSE58644", "GSE158309"];
const cCor = ["cor = 0.13", "cor = 0.09", "cor = 0.1", "cor = 0.08"];
const cP = ["p <2e-16", "p =3e-08", "p =3e-09", "p =9e-10"];
const c1XTicks = [0, 0.1, 0.2, 0.3, 0.4, 0.5, 0.6, 0.7];
const c1XLabels = [0, 0.2, 0.4, 0.6];
const c1YTicks = [8, 9, 10, 11, 12];
const c2XTicks = [0, 0.1, 0.2, 0.3, 0.4, 0.5, 0.6, 0.7];
const c2XLabels = [0, 0.2, 0.4, 0.6];
const c2YTicks = [10, 11, 12, 13, 14];
const c3XTicks = [0, 0.1, 0.2, 0.3, 0.4, 0.5, 0.6];
const c3XLabels = [0, 0.2, 0.4, 0.6];
const c3YTicks = [9, 10, 11, 12];
const c4XTicks = [0, 0.1, 0.2, 0.3, 0.4];
const c4YTicks = [9, 10, 11, 12, 13];

const c1Fit: Pt[] = [[-0.032, 9.5], [0.735, 11.33]];
const c2Fit: Pt[] = [[-0.033, 11.55], [0.742, 13.0]];
const c3Fit: Pt[] = [[-0.023, 10.1], [0.632, 11.56]];
const c4Fit: Pt[] = [[-0.019, 10.46], [0.432, 11.34]];

const cEmtab: Pt[] = [
  [0.0,8.1],[0.0,8.4],[0.0,8.8],[0.0,9.1],[0.0,9.3],[0.0,9.6],[0.0,9.9],[0.0,10.2],[0.0,10.5],[0.0,10.9],
  [0.005,8.6],[0.005,9.0],[0.005,9.4],[0.005,9.8],[0.005,10.1],[0.005,10.7],[0.01,8.2],[0.01,9.2],[0.01,10.0],[0.01,11.0],
  [0.0,8.6],[0.0,9.0],[0.0,9.4],[0.0,9.8],[0.0,10.0],[0.0,10.4],[0.0,10.7],[0.005,9.2],[0.005,9.6],[0.005,10.4],
  [0.05,9.8],[0.08,10.2],[0.1,9.5],[0.12,10.6],[0.03,9.2],[0.15,10.0],[0.07,10.9],[0.18,10.4],[0.04,8.9],[0.11,9.0],
  [0.2,10.8],[0.06,9.5],[0.14,11.0],[0.09,9.9],[0.22,9.7],[0.02,10.4],[0.16,9.3],[0.25,10.5],[0.08,8.7],[0.13,10.3],
  [0.19,11.3],[0.05,10.6],[0.1,11.4],[0.27,10.1],[0.03,9.6],[0.17,9.6],[0.21,10.3],[0.07,9.3],[0.12,9.8],[0.24,11.1],
  [0.09,10.7],[0.15,8.8],[0.04,10.1],[0.2,9.2],[0.28,10.6],[0.11,10.0],[0.06,11.2],[0.18,10.9],[0.13,9.1],[0.23,9.9],
  [0.08,9.6],[0.16,11.3],[0.3,10.2],[0.02,9.0],[0.14,10.5],[0.26,9.4],[0.1,8.6],[0.19,10.1],[0.05,10.3],[0.22,11.0],
  [0.12,9.4],[0.29,11.0],[0.07,10.0],[0.17,10.7],[0.03,10.8],[0.25,9.8],[0.09,9.2],[0.21,8.9],[0.15,10.2],[0.11,11.5],
  [0.06,8.9],[0.27,10.8],[0.13,10.9],[0.04,9.4],[0.18,9.5],[0.08,11.0],[0.24,10.2],[0.1,10.4],[0.16,9.7],[0.2,11.4],
  [0.02,9.7],[0.04,10.3],[0.06,9.9],[0.08,10.5],[0.1,10.1],[0.12,9.7],[0.14,10.8],[0.03,10.0],[0.05,9.4],[0.07,10.6],
  [0.09,10.3],[0.11,9.6],[0.13,10.1],[0.15,10.7],[0.02,10.7],[0.04,9.6],[0.06,10.2],[0.08,9.9],[0.1,10.9],[0.12,10.2],
  [0.16,10.4],[0.18,9.9],[0.01,9.5],[0.03,9.9],[0.05,10.9],[0.07,9.7],[0.09,10.5],[0.11,10.8],[0.13,9.5],[0.17,10.3],
  [0.19,9.8],[0.21,10.6],[0.23,10.5],[0.01,10.3],[0.02,8.8],[0.04,8.5],[0.06,10.8],[0.08,9.1],[0.14,9.4],[0.2,10.0],
  [0.32,10.3],[0.35,10.9],[0.31,9.6],[0.38,10.5],[0.33,11.0],[0.36,9.8],[0.42,10.4],[0.4,11.2],[0.34,10.6],[0.45,10.7],
  [0.37,9.3],[0.44,9.4],[0.39,10.0],[0.47,10.5],[0.3,12.0],[0.33,11.4],[0.41,9.9],[0.35,11.3],
  [0.74,10.95],[0.51,9.3],[0.49,11.2],[0.4,8.5],[0.07,7.4],[0.15,12.8],[0.3,12.2],[0.25,12.1],[0.06,8.1],[0.27,8.5],
  [0.2,8.7],[0.52,11.0]
];

const cGse20685: Pt[] = [
  [0.05,11.8],[0.08,12.1],[0.1,11.5],[0.12,12.4],[0.03,11.2],[0.06,12.7],[0.07,11.9],[0.09,12.2],[0.04,11.6],[0.11,11.0],
  [0.13,12.0],[0.02,12.3],[0.15,11.7],[0.08,10.9],[0.06,11.4],[0.1,12.8],[0.14,11.3],[0.05,12.5],[0.09,11.7],[0.12,11.1],
  [0.07,12.4],[0.16,12.3],[0.03,11.9],[0.11,12.6],[0.04,10.8],[0.18,11.6],[0.08,11.3],[0.13,12.9],[0.06,11.0],[0.1,11.9],
  [0.15,12.5],[0.02,11.5],[0.09,10.7],[0.17,11.2],[0.05,12.9],[0.12,11.6],[0.07,11.1],[0.2,12.0],[0.04,12.1],[0.14,10.9],
  [0.01,11.7],[0.11,12.2],[0.19,12.7],[0.08,12.6],[0.06,10.6],[0.13,11.8],[0.16,10.8],[0.03,12.6],[0.1,11.2],[0.18,12.4],
  [0.09,13.0],[0.21,11.4],[0.05,11.3],[0.12,13.2],[0.0,11.9],[0.15,11.5],[0.07,12.0],[0.22,12.2],[0.01,10.9],[0.17,13.1],
  [0.06,11.8],[0.08,11.6],[0.1,12.1],[0.12,11.9],[0.04,12.0],[0.07,12.2],[0.09,11.9],[0.11,11.7],[0.05,11.6],[0.13,12.2],
  [0.03,11.4],[0.15,12.0],[0.08,12.4],[0.06,12.1],[0.1,11.3],[0.14,11.9],[0.05,12.2],[0.09,11.4],[0.12,12.5],[0.07,11.6],
  [0.16,11.9],[0.04,11.3],[0.11,12.0],[0.02,12.0],[0.18,12.1],[0.13,11.5],[0.06,12.4],[0.17,11.7],[0.08,11.8],[0.1,12.5],
  [0.24,12.5],[0.27,11.8],[0.22,11.0],[0.3,12.3],[0.25,13.0],[0.33,11.6],[0.28,12.8],[0.35,12.0],[0.23,11.3],[0.31,13.3],
  [0.26,11.5],[0.38,11.9],[0.29,12.1],[0.36,12.7],[0.24,13.5],[0.32,11.0],[0.27,12.9],[0.34,12.5],[0.21,13.4],[0.37,11.4],
  [0.3,13.8],[0.39,12.4],[0.25,10.7],[0.33,12.2],
  [0.42,12.3],[0.45,11.6],[0.47,12.4],[0.5,12.9],[0.43,13.2],[0.55,12.2],[0.48,11.7],[0.6,12.5],[0.41,12.0],[0.52,13.0],
  [0.09,14.7],[0.17,14.2],[0.31,14.1],[0.47,14.0],[0.7,13.6],[0.55,13.8],[0.64,13.5],[0.7,12.2],[0.47,11.1],[0.14,9.9],
  [0.06,10.1],[0.35,10.8],[0.75,13.6],[0.2,13.8],[0.27,10.3]
];

const cGse58644: Pt[] = [
  [0.0,9.2],[0.0,9.6],[0.0,10.0],[0.0,10.4],[0.0,10.8],[0.0,11.3],[0.005,9.4],[0.005,9.9],[0.005,10.2],[0.005,10.6],
  [0.005,11.0],[0.01,9.7],[0.01,10.5],[0.01,11.6],[0.0,9.0],
  [0.02,10.3],[0.04,10.7],[0.03,9.8],[0.05,11.1],[0.06,10.0],[0.02,11.5],[0.07,10.5],[0.04,9.5],[0.08,11.3],[0.03,10.9],
  [0.05,9.7],[0.09,10.2],[0.06,11.7],[0.02,9.9],[0.1,10.8],[0.04,11.9],[0.07,9.6],[0.03,11.2],[0.11,10.4],[0.05,10.5],
  [0.08,9.9],[0.06,10.9],[0.12,11.2],[0.02,10.7],[0.09,11.6],[0.04,10.1],[0.13,10.0],[0.07,11.0],[0.03,9.4],[0.1,11.9],
  [0.05,12.0],[0.08,10.6],[0.06,9.3],[0.14,10.7],[0.02,11.1],[0.11,9.8],[0.04,11.4],[0.09,10.9],[0.07,11.8],[0.15,11.4],
  [0.03,10.5],[0.12,10.3],[0.05,9.2],[0.08,11.9],[0.1,9.6],[0.06,10.3],[0.13,11.7],[0.04,10.0],[0.02,9.6],[0.09,11.1],
  [0.07,10.2],[0.16,10.9],[0.11,11.5],[0.03,12.1],[0.14,9.9],[0.06,11.4],[0.08,10.1],[0.12,9.5],[0.05,10.8],[0.1,10.5],
  [0.01,10.1],[0.02,10.5],[0.03,10.2],[0.04,10.6],[0.05,10.3],[0.06,10.7],[0.07,10.4],[0.08,10.8],[0.02,10.0],[0.03,11.0],
  [0.04,9.9],[0.05,11.3],[0.06,10.5],[0.01,10.8],[0.07,9.9],[0.09,10.6],[0.1,11.0],[0.02,9.8],[0.03,10.7],[0.05,9.8],
  [0.08,11.1],[0.04,10.4],[0.06,9.6],[0.11,10.6],[0.01,11.3],[0.09,10.3],[0.12,10.9],[0.07,11.3],[0.03,11.5],[0.02,11.7],
  [0.18,11.0],[0.2,11.6],[0.17,10.5],[0.22,12.0],[0.19,11.3],[0.25,11.2],[0.21,10.3],[0.28,11.7],[0.16,11.9],[0.23,11.5],
  [0.27,11.0],[0.2,10.8],[0.3,11.2],[0.24,10.6],[0.33,11.8],[0.18,9.9],[0.26,11.4],[0.35,11.0],[0.22,11.9],[0.29,11.3],
  [0.62,11.5],[0.47,11.9],[0.41,9.9],[0.3,9.7],[0.02,12.7],[0.06,12.3],[0.39,10.6],[0.37,10.3],[0.19,9.8],[0.09,8.9],
  [0.36,11.8],[0.11,9.3],[0.04,12.3]
];

const cGse158309: Pt[] = [
  [0.0,9.5],[0.0,9.7],[0.0,9.9],[0.0,10.1],[0.0,10.3],[0.0,10.5],[0.0,10.7],[0.0,10.9],[0.0,11.1],[0.0,11.3],
  [0.0,11.5],[0.0,11.7],[0.0,11.9],[0.003,9.6],[0.003,10.0],[0.003,10.4],[0.003,10.8],[0.003,11.2],[0.003,11.6],[0.0,12.0],
  [0.0,9.8],[0.0,10.0],[0.0,10.2],[0.0,10.4],[0.0,10.6],[0.0,10.8],[0.0,11.0],[0.0,11.2],[0.0,11.4],[0.0,11.6],
  [0.01,10.4],[0.02,10.8],[0.03,10.2],[0.015,11.1],[0.04,10.5],[0.02,9.9],[0.05,10.9],[0.03,11.3],[0.06,10.3],[0.01,10.0],
  [0.04,11.0],[0.07,10.6],[0.025,10.6],[0.05,10.1],[0.08,11.2],[0.03,9.7],[0.06,11.6],[0.02,11.4],[0.09,10.4],[0.04,9.8],
  [0.07,11.0],[0.01,10.7],[0.05,11.5],[0.1,10.8],[0.035,10.0],[0.06,9.9],[0.08,10.5],[0.02,10.2],[0.09,11.4],[0.045,10.7],
  [0.03,11.8],[0.07,10.2],[0.1,11.1],[0.05,10.4],[0.015,9.6],[0.06,12.3],[0.04,11.9],[0.08,9.9],[0.02,11.6],[0.09,10.0],
  [0.01,10.2],[0.02,10.5],[0.03,10.7],[0.015,10.4],[0.04,10.3],[0.025,11.0],[0.05,10.6],[0.035,10.9],[0.06,10.7],[0.02,10.9],
  [0.04,11.2],[0.07,10.4],[0.03,10.4],[0.05,11.1],[0.08,10.7],[0.01,11.2],[0.06,10.6],[0.09,10.9],[0.045,10.2],[0.1,10.3],
  [0.11,11.0],[0.13,10.5],[0.12,11.5],[0.15,10.6],[0.14,11.8],[0.16,10.2],[0.11,10.2],[0.17,11.3],[0.13,12.0],[0.18,10.9],
  [0.15,11.5],[0.19,11.7],[0.12,10.8],[0.2,10.4],[0.14,10.0],[0.21,11.2],[0.16,11.9],[0.22,10.8],[0.17,10.4],[0.23,11.5],
  [0.18,12.1],[0.19,10.1],[0.24,11.0],[0.2,11.9],[0.25,11.4],[0.21,10.6],[0.26,11.8],[0.22,12.0],[0.27,10.9],[0.23,10.3],
  [0.28,11.6],[0.24,10.6],[0.29,11.3],[0.26,10.5],[0.3,11.9],[0.27,11.5],[0.31,10.9],[0.28,12.0],[0.32,11.6],[0.15,9.8],
  [0.2,9.9],[0.25,11.1],[0.13,11.2],[0.29,12.1],[0.18,11.4],
  [0.0,13.15],[0.22,12.8],[0.24,12.4],[0.37,12.3],[0.42,11.25],[0.09,9.2],[0.03,9.0],[0.27,9.4],[0.33,11.2],[0.35,11.0],
  [0.3,9.9],[0.06,12.3],[0.16,12.2],[0.25,12.4],[0.01,9.0]
];

// ---------------- helpers ----------------
const fmtInt = (v: number) => (v < 0 ? "\u2212" + Math.abs(v) : String(v));
const fmt1 = (v: number) => v.toFixed(1);

interface RPanel {
  box: number[]; xr: number[]; yr: number[];
  xTicks: number[]; xLabels: number[]; yTicks: number[]; yLabels: number[];
  xFmt: (v: number) => string; yFmt: (v: number) => string;
  pts: Pt[]; fit: Pt[]; size: number;
}
interface BPanel {
  box: number[]; xr: number[]; xTicks: number[]; xMinor: number[];
  pts: Pt[]; sx: number[]; sy: number[]; se: number[]; showY: boolean;
}

function txt(x: number, y: number, text: string, o: any = {}) {
  const align = o.align || "center";
  const va = o.va || "middle";
  return {
    type: "text", x, y, rotation: o.rot || 0, silent: true, z: 100,
    style: {
      text, fill: o.color || "#111", fontSize: o.size || 11, fontFamily: FONT,
      textAlign: align, textVerticalAlign: va, align, verticalAlign: va,
    },
  };
}

function buildOption() {
  const grid: any[] = [], xAxis: any[] = [], yAxis: any[] = [], series: any[] = [];

  const rPanels: RPanel[] = [
    { box: [41, 29, 137, 128], xr: [8.2, 17.0], yr: [-4250, 3700], xTicks: a1XTicks, xLabels: a1XTicks, yTicks: a1YTicks, yLabels: a1YLabels, xFmt: fmtInt, yFmt: fmtInt, pts: a1Stromal, fit: a1Fit, size: 3.8 },
    { box: [233, 28, 145, 127], xr: [7.9, 17.3], yr: [-3380, 5800], xTicks: a2XTicks, xLabels: a2XTicks, yTicks: a2YTicks, yLabels: a2YLabels, xFmt: fmtInt, yFmt: fmtInt, pts: a2Immune, fit: a2Fit, size: 3.8 },
    { box: [424, 28, 143, 126], xr: [7.13, 12.79], yr: [-1920, 5800], xTicks: a3XTicks, xLabels: a3XTicks, yTicks: a3YTicks, yLabels: a3YLabels, xFmt: fmtInt, yFmt: fmtInt, pts: a3Stromal, fit: a3Fit, size: 3.6 },
    { box: [610, 28, 145, 126], xr: [6.9, 12.7], yr: [-430, 8650], xTicks: a4XTicks, xLabels: a4XTicks, yTicks: a4YTicks, yLabels: a4YLabels, xFmt: fmtInt, yFmt: fmtInt, pts: a4Immune, fit: a4Fit, size: 3.6 },
    { box: [42, 389, 142, 127], xr: [-0.032, 0.735], yr: [7.13, 12.87], xTicks: c1XTicks, xLabels: c1XLabels, yTicks: c1YTicks, yLabels: c1YTicks, xFmt: fmt1, yFmt: fmtInt, pts: cEmtab, fit: c1Fit, size: 3.4 },
    { box: [211, 389, 142, 127], xr: [-0.033, 0.742], yr: [9.59, 14.78], xTicks: c2XTicks, xLabels: c2XLabels, yTicks: c2YTicks, yLabels: c2YTicks, xFmt: fmt1, yFmt: fmtInt, pts: cGse20685, fit: c2Fit, size: 3.4 },
    { box: [378, 389, 141, 127], xr: [-0.023, 0.632], yr: [8.57, 12.68], xTicks: c3XTicks, xLabels: c3XLabels, yTicks: c3YTicks, yLabels: c3YTicks, xFmt: fmt1, yFmt: fmtInt, pts: cGse58644, fit: c3Fit, size: 3.4 },
    { box: [544, 389, 143, 127], xr: [-0.019, 0.432], yr: [8.75, 13.2], xTicks: c4XTicks, xLabels: c4XTicks, yTicks: c4YTicks, yLabels: c4YTicks, xFmt: fmt1, yFmt: fmtInt, pts: cGse158309, fit: c4Fit, size: 3.4 },
  ];

  rPanels.forEach((p) => {
    const gi = grid.length;
    grid.push({ left: p.box[0], top: p.box[1], width: p.box[2], height: p.box[3], show: true, borderColor: "#000", borderWidth: 1, backgroundColor: "rgba(0,0,0,0)", containLabel: false, outerBoundsMode: "none" });
    const xi = xAxis.length;
    xAxis.push({
      type: "value", gridIndex: gi, min: p.xr[0], max: p.xr[1], position: "bottom",
      axisLine: { show: false, onZero: false }, splitLine: { show: false },
      axisTick: { show: true, inside: false, length: 4, customValues: p.xTicks, lineStyle: { color: "#000", width: 1 } },
      axisLabel: { show: true, customValues: p.xLabels, formatter: p.xFmt, margin: 5, color: "#111", fontSize: 11, fontFamily: FONT },
    });
    const yi = yAxis.length;
    yAxis.push({
      type: "value", gridIndex: gi, min: p.yr[0], max: p.yr[1], position: "left",
      axisLine: { show: false, onZero: false }, splitLine: { show: false },
      axisTick: { show: true, inside: false, length: 4, customValues: p.yTicks, lineStyle: { color: "#000", width: 1 } },
      axisLabel: { show: true, customValues: p.yLabels, formatter: p.yFmt, rotate: 90, margin: 5, color: "#111", fontSize: 11, fontFamily: FONT },
    });
    series.push({ type: "scatter", xAxisIndex: xi, yAxisIndex: yi, data: p.pts, symbol: "circle", symbolSize: p.size, itemStyle: { color: RED, opacity: 1 }, silent: true, clip: true });
    series.push({ type: "line", xAxisIndex: xi, yAxisIndex: yi, data: p.fit, symbol: "none", lineStyle: { color: "#111", width: 1.1, type: [4, 3] }, silent: true, clip: true });
  });

  const bTop = 213, bH = 112, bY = [4.1, 12.7];
  const bPanels: BPanel[] = [
    { box: [52, 116], xr: [-0.02, 0.537], xTicks: b1XTicks, xMinor: b1XMinor, pts: bBCell, sx: bBCellSmoothX, sy: bBCellSmoothY, se: bBCellSmoothSE, showY: true },
    { box: [172, 117], xr: [-0.047, 0.74], xTicks: b2XTicks, xMinor: b2XMinor, pts: bCD8, sx: bCD8SmoothX, sy: bCD8SmoothY, se: bCD8SmoothSE, showY: false },
    { box: [294, 118], xr: [-0.033, 0.524], xTicks: b3XTicks, xMinor: b3XMinor, pts: bCD4, sx: bCD4SmoothX, sy: bCD4SmoothY, se: bCD4SmoothSE, showY: false },
    { box: [416, 117], xr: [-0.024, 0.447], xTicks: b4XTicks, xMinor: b4XMinor, pts: bMacrophage, sx: bMacrophageSmoothX, sy: bMacrophageSmoothY, se: bMacrophageSmoothSE, showY: false },
    { box: [537, 117], xr: [-0.02, 0.366], xTicks: b5XTicks, xMinor: b5XMinor, pts: bNeutrophil, sx: bNeutrophilSmoothX, sy: bNeutrophilSmoothY, se: bNeutrophilSmoothSE, showY: false },
    { box: [659, 113], xr: [-0.07, 1.29], xTicks: b6XTicks, xMinor: b6XMinor, pts: bDendritic, sx: bDendriticSmoothX, sy: bDendriticSmoothY, se: bDendriticSmoothSE, showY: false },
  ];

  bPanels.forEach((p) => {
    const gi = grid.length;
    grid.push({ left: p.box[0], top: bTop, width: p.box[1], height: bH, show: true, borderColor: "#999", borderWidth: 1, backgroundColor: "#fff", containLabel: false, outerBoundsMode: "none" });
    const xi = xAxis.length;
    xAxis.push({
      type: "value", gridIndex: gi, min: p.xr[0], max: p.xr[1], position: "bottom",
      axisLine: { show: false, onZero: false },
      splitLine: { show: true, lineStyle: { color: "#e3e3e3", width: 1 } },
      axisTick: { show: true, inside: false, length: 2.5, customValues: p.xTicks, lineStyle: { color: "#777" } },
      axisLabel: { show: true, customValues: p.xTicks, formatter: fmt1, margin: 3.5, color: "#555", fontSize: 8.5, fontFamily: FONT },
    });
    xAxis.push({
      type: "value", gridIndex: gi, min: p.xr[0], max: p.xr[1], position: "top",
      axisLine: { show: false, onZero: false }, axisLabel: { show: false },
      axisTick: { show: false, customValues: p.xMinor },
      splitLine: { show: true, lineStyle: { color: "#f1f1f1", width: 0.7 } },
    });
    const yi = yAxis.length;
    yAxis.push({
      type: "value", gridIndex: gi, min: bY[0], max: bY[1], position: "left",
      axisLine: { show: false, onZero: false },
      splitLine: { show: true, lineStyle: { color: "#e3e3e3", width: 1 } },
      axisTick: { show: p.showY, inside: false, length: 2.5, customValues: bYTicks, lineStyle: { color: "#777" } },
      axisLabel: { show: p.showY, customValues: bYTicks, formatter: (v: number) => String(v), margin: 4, color: "#555", fontSize: 11, fontFamily: FONT },
    });
    yAxis.push({
      type: "value", gridIndex: gi, min: bY[0], max: bY[1], position: "right",
      axisLine: { show: false, onZero: false }, axisLabel: { show: false },
      axisTick: { show: false, customValues: bYMinor },
      splitLine: { show: true, lineStyle: { color: "#f1f1f1", width: 0.7 } },
    });
    series.push({ type: "scatter", xAxisIndex: xi, yAxisIndex: yi, data: p.pts, symbol: "circle", symbolSize: 2.0, itemStyle: { color: "#111" }, silent: true, clip: true });
    series.push({
      type: "custom", xAxisIndex: xi, yAxisIndex: yi, silent: true, clip: true,
      data: [[p.sx[0], p.sy[0]]],
      renderItem: (_params: any, api: any) => {
        const up = p.sx.map((x, i) => api.coord([x, p.sy[i] + p.se[i]]));
        const lo = p.sx.map((x, i) => api.coord([x, p.sy[i] - p.se[i]])).reverse();
        return { type: "polygon", shape: { points: up.concat(lo), smooth: 0.25 }, style: { fill: "rgba(153,153,153,0.42)", stroke: "none" } };
      },
    });
    series.push({
      type: "line", xAxisIndex: xi, yAxisIndex: yi, data: p.sx.map((x, i) => [x, p.sy[i]]),
      symbol: "none", smooth: 0.4, lineStyle: { color: "#3366ff", width: 1.7 }, silent: true, clip: true,
    });
  });

  const g: any[] = [];
  // panel letters
  g.push(txt(1, 11, "a", { size: 20, align: "left" }));
  g.push(txt(1, 187, "b", { size: 20, align: "left" }));
  g.push(txt(1, 364, "c", { size: 20, align: "left" }));

  // panel a texts
  const aTitleX = [112, 303, 485, 674];
  const aXNameX = [116, 303, 495, 686];
  const aYNameX = [13, 207, 397, 588];
  const aCorX = [130, 321, 513, 695];
  aTitles.forEach((t, i) => {
    g.push(txt(aTitleX[i], 17, t));
    g.push(txt(aXNameX[i], 182, aXName));
    g.push(txt(aYNameX[i], 92, aYNames[i], { rot: Math.PI / 2 }));
    g.push(txt(aCorX[i], 131, aCor[i], { align: "left" }));
    g.push(txt(aCorX[i], 143, aP[i], { align: "left" }));
  });

  // panel b texts
  const bTitleX = [116, 244, 368, 487, 607, 732];
  const bCorX = [104, 226, 352, 468, 590, 712];
  bTitles.forEach((t, i) => {
    g.push(txt(bTitleX[i], 206, t, { size: 11.5 }));
    g.push(txt(bCorX[i], 222, bCor[i], { align: "left", color: "#ff1a1a" }));
    g.push(txt(bCorX[i], 234, bP[i], { align: "left", color: "#ff1a1a" }));
  });
  g.push(txt(18, 269, "TGFBI Expression Level", { rot: Math.PI / 2, size: 11 }));
  g.push(txt(32, 269, "(log2 TPM)", { rot: Math.PI / 2, size: 11 }));
  g.push(txt(418, 350, "Infiltration Level", { size: 11 }));

  // panel c texts
  const cTitleX = [113, 257, 447, 614];
  const cCorX = [121, 290, 457, 629];
  cTitles.forEach((t, i) => {
    g.push(txt(cTitleX[i], 375, t));
    g.push(txt(cCorX[i], 491, cCor[i], { align: "left" }));
    g.push(txt(cCorX[i], 504, cP[i], { align: "left" }));
  });
  g.push(txt(17, 452, "TGFBI expression", { rot: Math.PI / 2 }));
  g.push(txt(370, 543, "Macrophage Infiltration Level"));

  return {
    animation: false,
    backgroundColor: "#fff",
    textStyle: { fontFamily: FONT },
    grid, xAxis, yAxis, series,
    graphic: { elements: g },
  };
}

export default function App() {
  const ref = useRef<HTMLDivElement>(null);
  useEffect(() => {
    if (!ref.current) return;
    const chart = echarts.init(ref.current, null, { renderer: "svg" });
    chart.setOption(buildOption() as any);
    return () => chart.dispose();
  }, []);
  return (
    <div
      ref={ref}
      style={{ position: "fixed", left: 0, top: 0, width: 777, height: 551, background: "#fff" }}
    />
  );
}
